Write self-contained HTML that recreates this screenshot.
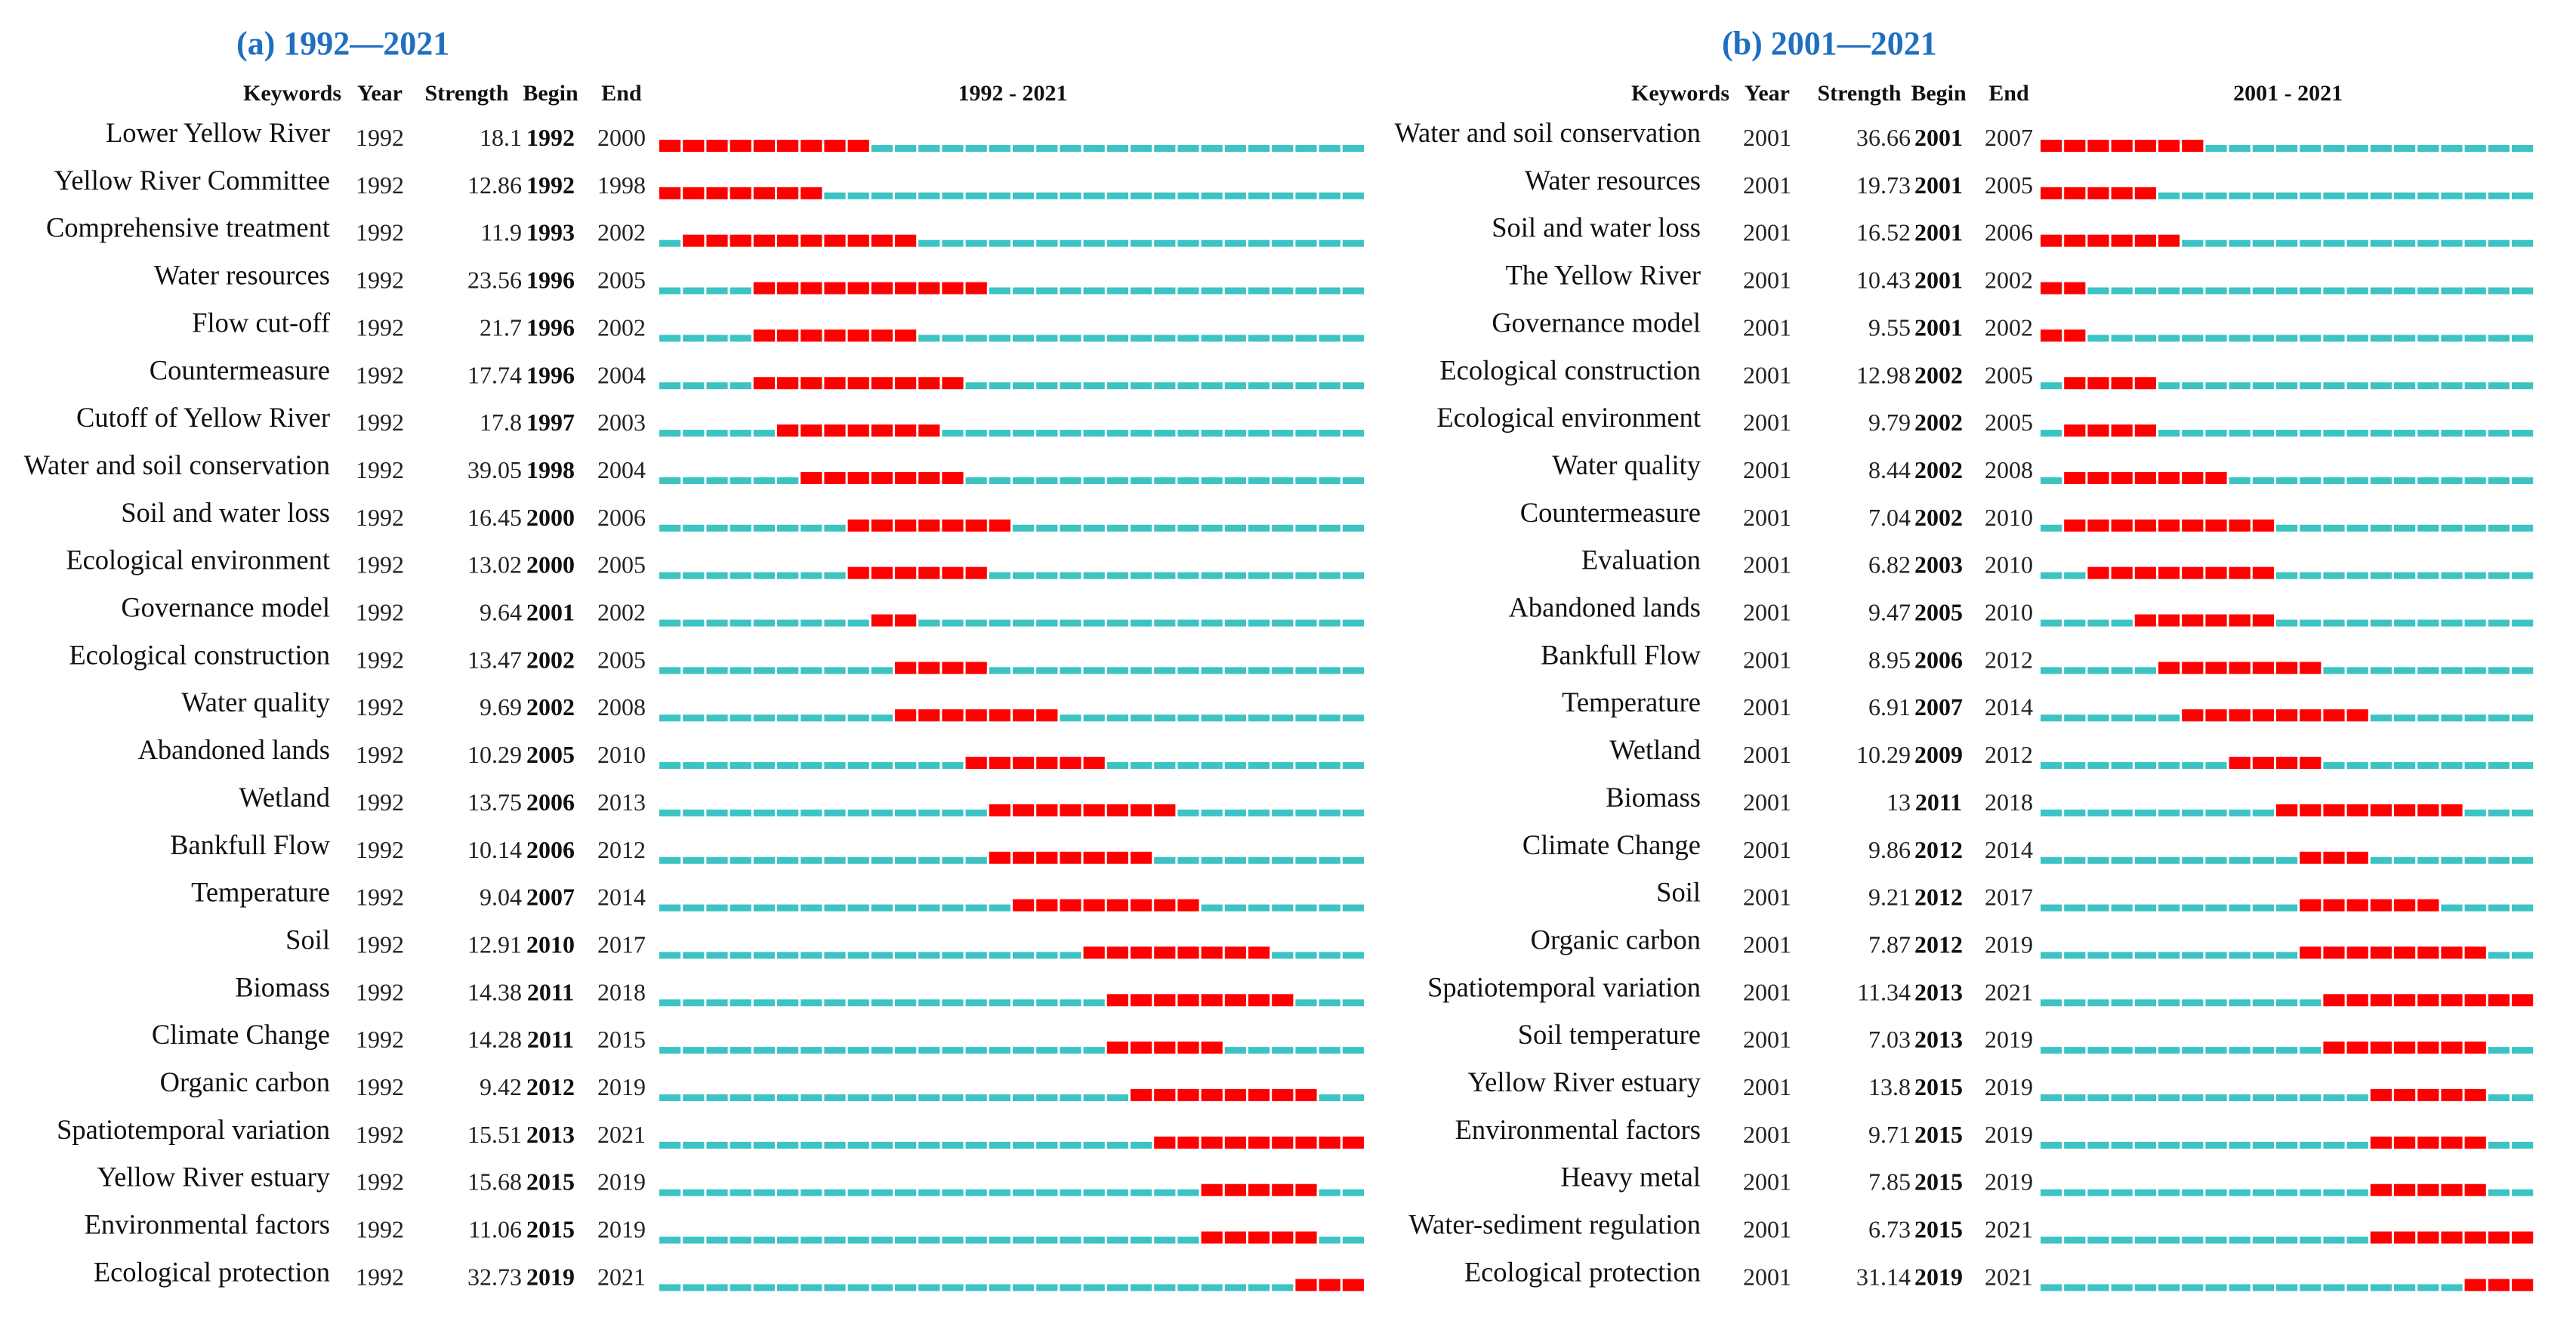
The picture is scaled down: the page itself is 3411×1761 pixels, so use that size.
<!DOCTYPE html>
<html><head><meta charset="utf-8"><style>
html,body{margin:0;padding:0;background:#fff;}
svg{display:block;font-family:"Liberation Serif",serif;}
</style></head><body>
<svg id="chart" width="3411" height="1761" viewBox="0 0 3411 1761" xmlns="http://www.w3.org/2000/svg"></svg>
<script>
const kwA = ["Lower Yellow River","Yellow River Committee","Comprehensive treatment","Water resources","Flow cut-off","Countermeasure","Cutoff of Yellow River","Water and soil conservation","Soil and water loss","Ecological environment","Governance model","Ecological construction","Water quality","Abandoned lands","Wetland","Bankfull Flow","Temperature","Soil","Biomass","Climate Change","Organic carbon","Spatiotemporal variation","Yellow River estuary","Environmental factors","Ecological protection"];
const strengthA = ["18.1","12.86","11.9","23.56","21.7","17.74","17.8","39.05","16.45","13.02","9.64","13.47","9.69","10.29","13.75","10.14","9.04","12.91","14.38","14.28","9.42","15.51","15.68","11.06","32.73"];
const beginA = [1992,1992,1993,1996,1996,1996,1997,1998,2000,2000,2001,2002,2002,2005,2006,2006,2007,2010,2011,2011,2012,2013,2015,2015,2019];
const endA = [2000,1998,2002,2005,2002,2004,2003,2004,2006,2005,2002,2005,2008,2010,2013,2012,2014,2017,2018,2015,2019,2021,2019,2019,2021];
const kwB = ["Water and soil conservation","Water resources","Soil and water loss","The Yellow River","Governance model","Ecological construction","Ecological environment","Water quality","Countermeasure","Evaluation","Abandoned lands","Bankfull Flow","Temperature","Wetland","Biomass","Climate Change","Soil","Organic carbon","Spatiotemporal variation","Soil temperature","Yellow River estuary","Environmental factors","Heavy metal","Water-sediment regulation","Ecological protection"];
const strengthB = ["36.66","19.73","16.52","10.43","9.55","12.98","9.79","8.44","7.04","6.82","9.47","8.95","6.91","10.29","13","9.86","9.21","7.87","11.34","7.03","13.8","9.71","7.85","6.73","31.14"];
const beginB = [2001,2001,2001,2001,2001,2002,2002,2002,2002,2003,2005,2006,2007,2009,2011,2012,2012,2012,2013,2013,2015,2015,2015,2015,2019];
const endB = [2007,2005,2006,2002,2002,2005,2005,2008,2010,2010,2010,2012,2014,2012,2018,2014,2017,2019,2021,2019,2019,2019,2019,2021,2021];

const NS="http://www.w3.org/2000/svg";
const svg=document.getElementById('chart');
function mk(tag,attrs,text){const e=document.createElementNS(NS,tag);for(const k in attrs)e.setAttribute(k,attrs[k]);if(text!==undefined)e.textContent=text;svg.appendChild(e);return e;}
const CELL=31.2, ROW0=180, ROWH=62.85;
function rowY(i){return ROW0+ROWH*i;}

function panel(p){
  let t=mk('text',{x:p.titleX,y:72,'font-size':44,'font-weight':'bold',fill:'#1f6fc0'},p.title);
  
  
  const hs=[["Keywords",p.hkR,'end'],["Year",p.yearC,'middle'],["Strength",p.strC,'middle'],["Begin",p.begC,'middle'],["End",p.endC,'middle'],[p.range,p.barX+CELL*p.n/2,'middle']];
  hs.forEach(h=>{const e=mk('text',{x:h[1],y:133,'font-size':30,'font-weight':'bold','text-anchor':h[2],fill:'#111'},h[0]);
    
    });
  for(let i=0;i<p.kw.length;i++){
    const y=rowY(i);
    let e=mk('text',{x:p.kwR,y:y+8,'font-size':36.5,'text-anchor':'end',fill:'#111'},p.kw[i]);
    
    
    e=mk('text',{x:p.yearC,y:y+13,'font-size':32,'text-anchor':'middle',fill:'#222'},String(p.start));
    
    
    e=mk('text',{x:p.strR,y:y+13,'font-size':32,'text-anchor':'end',fill:'#222'},p.str[i]);
    
    
    e=mk('text',{x:p.begC,y:y+13,'font-size':32,'font-weight':'bold','text-anchor':'middle',fill:'#111'},String(p.beg[i]));
    
    
    e=mk('text',{x:p.endC,y:y+13,'font-size':32,'text-anchor':'middle',fill:'#222'},String(p.end[i]));
    
    
    for(let k=0;k<p.n;k++){
      const yr=p.start+k, x=p.barX+k*CELL;
      const hot=yr>=p.beg[i]&&yr<=p.end[i];
      const r=hot?mk('rect',{x:x,y:y+5,width:CELL-3,height:16,fill:'#ff0000'}):mk('rect',{x:x,y:y+12,width:CELL-3,height:9,fill:'#3cc3c3'});
      
      
    }
  }
}
panel({id:'panel-a',title:'(a) 1992\u20142021',titleX:313,kwR:437,hkR:452,yearC:503,strR:691,strC:618,begC:729,endC:823,barX:873,n:30,start:1992,range:'1992 - 2021',kw:kwA,str:strengthA,beg:beginA,end:endA});
panel({id:'panel-b',title:'(b) 2001\u20142021',titleX:2280,kwR:2252,hkR:2290,yearC:2340,strR:2530,strC:2462,begC:2567,endC:2660,barX:2702,n:21,start:2001,range:'2001 - 2021',kw:kwB,str:strengthB,beg:beginB,end:endB});
</script>
</body></html>
